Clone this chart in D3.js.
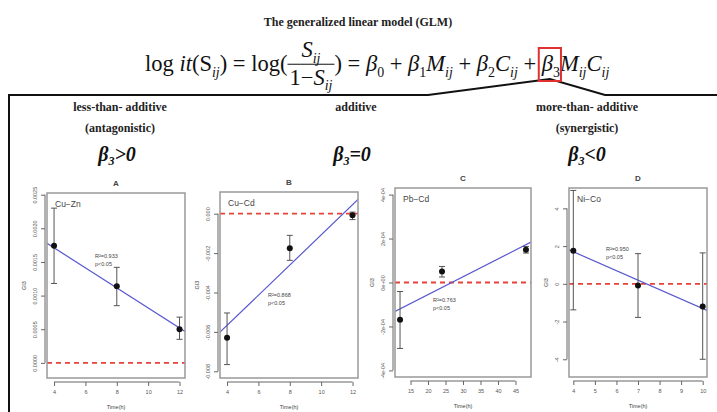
<!DOCTYPE html>
<html>
<head>
<meta charset="utf-8">
<script src="https://d3js.org/d3.v7.min.js"></script>
<style>
  body { margin: 0; background: white; }
  svg { display: block; }
  .serif { font-family: "Liberation Serif", "Times New Roman", serif; white-space: pre; }
  .tick text { font-family: "Liberation Sans", Arial, sans-serif; font-size: 5.5px; fill: #555; }
  .tick line { stroke: #666; }
  .small { font-family: "Liberation Sans", Arial, sans-serif; fill: #444; }
</style>
</head>
<body>
<svg id="chart" width="717" height="412"></svg>
<script>
// ---- data ----
const panelIds = ["A", "B", "C", "D"];
const pairNames = ["Cu\u2212Zn", "Cu\u2212Cd", "Pb\u2212Cd", "Ni\u2212Co"];
const r2Values = ["0.933", "0.868", "0.763", "0.950"];
const headers = ["less-than- additive", "additive", "more-than- additive"];
const subHeaders = ["(antagonistic)", "", "(synergistic)"];
const betaSigns = [">", "=", "<"];

const timeA = [4, 8, 12];
const giA = [0.00174, 0.00114, 0.00050];
const loA = [0.00118, 0.00085, 0.00035];
const hiA = [0.00230, 0.00142, 0.00068];
const fitA = [0.00171, 0.00052];
const xTicksA = [4, 6, 8, 10, 12];
const yTicksA = [0, 0.0005, 0.0010, 0.0015, 0.0020, 0.0025];

const timeB = [4, 8, 12];
const giB = [-0.0063, -0.00175, -0.00008];
const loB = [-0.00766, -0.00237, -0.0003];
const hiB = [-0.00504, -0.0011, 0.00008];
const fitB = [-0.00567, 0.00045];
const xTicksB = [4, 6, 8, 10, 12];
const yTicksB = [0, -0.002, -0.004, -0.006, -0.008];

const timeC = [12, 24, 48];
const giC = [-0.000170, 0.000050, 0.000149];
const loC = [-0.000300, 0.000025, 0.000134];
const hiC = [-0.000041, 0.000073, 0.000164];
const fitC = [-0.000120, 0.000172];
const xTicksC = [15, 20, 25, 30, 35, 40, 45];
const yTicksC = [0.0004, 0.0002, 0, -0.0002, -0.0004];
const yLabelsC = ["4e-04", "2e-04", "0e+00", "-2e-04", "-4e-04"];

const timeD = [4, 7, 10];
const giD = [1.75, -0.09, -1.20];
const loD = [-1.38, -1.78, -4.0];
const hiD = [4.95, 1.60, 1.64];
const fitD = [1.70, -1.31];
const xTicksD = [4, 5, 6, 7, 8, 9, 10];
const yTicksD = [4, 2, 0, -2, -4];

// ---- layout ----
const svg = d3.select("#chart");

const panels = [
  { time: timeA, gi: giA, lo: loA, hi: hiA, fit: fitA, xt: xTicksA, yt: yTicksA,
    yfmt: d => d3.format(".4f")(d), xd: [3.55, 12.35], yd: [-0.000225, 0.002525],
    box: [47, 193, 185, 378], note: [95, 258] },
  { time: timeB, gi: giB, lo: loB, hi: hiB, fit: fitB, xt: xTicksB, yt: yTicksB,
    yfmt: d => d3.format(".3f")(d).replace("\u2212", "-"), xd: [3.55, 12.35], yd: [-0.00834, 0.0011],
    box: [220, 192, 358, 378], note: [268, 297] },
  { time: timeC, gi: giC, lo: loC, hi: hiC, fit: fitC, xt: xTicksC, yt: yTicksC,
    yfmt: (d, i) => yLabelsC[i], xd: [10.56, 49.44], yd: [-0.00043, 0.00043],
    box: [395, 188, 531, 377], note: [433, 302] },
  { time: timeD, gi: giD, lo: loD, hi: hiD, fit: fitD, xt: xTicksD, yt: yTicksD,
    yfmt: d => String(d), xd: [3.8, 10.2], yd: [-4.94, 5.08],
    box: [569, 188, 707, 377], note: [606, 251] }
];

// ---- title and equation ----
svg.append("text").attr("class", "serif")
  .attr("x", 358).attr("y", 26).attr("text-anchor", "middle")
  .attr("font-size", 12).attr("font-weight", "bold").attr("fill", "#222")
  .text("The generalized linear model (GLM)");

const eq = svg.append("g");
const base = 71;
let bx0 = 0, bx1 = 0;

function drawEquation(fs) {
  eq.selectAll("*").remove();
  const subFs = fs * 0.62;
  let cx = 145;
  function put(str, opts = {}) {
    const t = eq.append("text").attr("class", "serif")
      .attr("x", cx).attr("y", base + (opts.sub ? fs * 0.25 : 0))
      .attr("font-size", opts.sub ? subFs : fs)
      .attr("font-style", opts.it ? "italic" : null)
      .attr("fill", "#111")
      .text(str);
    cx += t.node().getComputedTextLength();
  }
  put("log ");
  put("it", { it: true });
  put("(S");
  put("ij", { sub: true, it: true });
  put(") = log(");
  // fraction
  const x0 = cx;
  const num = eq.append("text").attr("class", "serif").attr("y", base - fs * 0.62).attr("font-size", fs).attr("fill", "#111");
  num.append("tspan").attr("font-style", "italic").text("S");
  num.append("tspan").attr("font-size", subFs).attr("font-style", "italic").attr("dy", fs * 0.25).text("ij");
  const den = eq.append("text").attr("class", "serif").attr("y", base + fs * 0.6).attr("font-size", fs).attr("fill", "#111");
  den.append("tspan").text("1\u2212");
  den.append("tspan").attr("font-style", "italic").text("S");
  den.append("tspan").attr("font-size", subFs).attr("font-style", "italic").attr("dy", fs * 0.25).text("ij");
  const wn = num.node().getComputedTextLength(), wd = den.node().getComputedTextLength();
  const fw = Math.max(wn, wd) + 4;
  num.attr("x", x0 + (fw - wn) / 2);
  den.attr("x", x0 + (fw - wd) / 2);
  eq.append("line").attr("x1", x0).attr("x2", x0 + fw).attr("y1", base - fs * 0.3).attr("y2", base - fs * 0.3)
    .attr("stroke", "#111").attr("stroke-width", 1);
  cx += fw;
  put(") = ");
  put("\u03b2", { it: true }); put("0", { sub: true });
  put(" + ");
  put("\u03b2", { it: true }); put("1", { sub: true }); put("M", { it: true }); put("ij", { sub: true, it: true });
  put(" + ");
  put("\u03b2", { it: true }); put("2", { sub: true }); put("C", { it: true }); put("ij", { sub: true, it: true });
  put(" + ");
  bx0 = cx;
  put("\u03b2", { it: true }); put("3", { sub: true });
  bx1 = cx;
  put("M", { it: true }); put("ij", { sub: true, it: true }); put("C", { it: true }); put("ij", { sub: true, it: true });
  return cx - 145;
}
const w0 = drawEquation(20);
drawEquation(20 * 465 / w0);
const rbX0 = bx0 - 3, rbX1 = bx1 + 1;

// bracket lines and outer frame
svg.append("path")
  .attr("d", `M9,412 L9,95 L428,95 L${(rbX0 + rbX1) / 2},79 L605,95 L717,95`)
  .attr("fill", "none").attr("stroke", "#111").attr("stroke-width", 2);
svg.append("rect").attr("x", rbX0).attr("y", 48).attr("width", rbX1 - rbX0).attr("height", 33)
  .attr("fill", "none").attr("stroke", "#e03030").attr("stroke-width", 2);

// ---- column headers ----
const headX = [120, 356, 587];
const betaX = [117, 352, 587];
headers.forEach((h, i) => {
  svg.append("text").attr("class", "serif").attr("x", headX[i]).attr("y", 111)
    .attr("text-anchor", "middle").attr("font-size", 12).attr("font-weight", "bold").attr("fill", "#222")
    .text(h);
  if (subHeaders[i]) {
    svg.append("text").attr("class", "serif").attr("x", headX[i]).attr("y", 132)
      .attr("text-anchor", "middle").attr("font-size", 12).attr("font-weight", "bold").attr("fill", "#222")
      .text(subHeaders[i]);
  }
  const b = svg.append("text").attr("class", "serif").attr("x", betaX[i]).attr("y", 161)
    .attr("text-anchor", "middle").attr("font-size", 20).attr("font-weight", "bold")
    .attr("font-style", "italic").attr("fill", "#111");
  b.append("tspan").text("\u03b2");
  b.append("tspan").attr("font-size", 12).attr("dy", 4).text("3");
  b.append("tspan").attr("dy", -4).text(betaSigns[i] + "0");
});

// ---- panels ----
panels.forEach((p, i) => {
  const [x0, y0, x1, y1] = p.box;
  const x = d3.scaleLinear().domain(p.xd).range([x0, x1]);
  const y = d3.scaleLinear().domain(p.yd).range([y1, y0]);
  const g = svg.append("g");

  g.append("clipPath").attr("id", "clip" + i)
    .append("rect").attr("x", x0).attr("y", y0).attr("width", x1 - x0).attr("height", y1 - y0);

  // axes
  const ya = g.append("g").attr("transform", `translate(${x0 - 2},0)`)
    .call(d3.axisLeft(y).tickValues(p.yt).tickSize(4).tickPadding(3).tickFormat(p.yfmt));
  ya.select(".domain").remove();
  ya.selectAll(".tick text").attr("transform", "rotate(-90)").attr("text-anchor", "middle")
    .attr("x", 0).attr("dy", 0).attr("y", -8);
  g.append("line").attr("x1", x0 - 2).attr("x2", x0 - 2)
    .attr("y1", y(d3.min(p.yt))).attr("y2", y(d3.max(p.yt))).attr("stroke", "#666");

  const xa = g.append("g").attr("transform", `translate(0,${y1 + 4})`)
    .call(d3.axisBottom(x).tickValues(p.xt).tickSize(4).tickPadding(4).tickFormat(d3.format("d")));
  xa.select(".domain").remove();
  g.append("line").attr("x1", x(d3.min(p.xt))).attr("x2", x(d3.max(p.xt)))
    .attr("y1", y1 + 4).attr("y2", y1 + 4).attr("stroke", "#666");

  // axis titles and panel letter
  g.append("text").attr("class", "small").attr("font-size", 5.5)
    .attr("transform", `translate(${x0 - 21},${(y0 + y1) / 2}) rotate(-90)`)
    .attr("text-anchor", "middle").text("GI3");
  g.append("text").attr("class", "small").attr("font-size", 5.5)
    .attr("x", (x0 + x1) / 2).attr("y", y1 + 31).attr("text-anchor", "middle").text("Time(h)");
  g.append("text").attr("class", "small").attr("font-size", 8).attr("font-weight", "bold").attr("fill", "#222")
    .attr("x", (x0 + x1) / 2).attr("y", y0 - 7).attr("text-anchor", "middle").text(panelIds[i]);

  // reference line at zero
  g.append("line").attr("clip-path", `url(#clip${i})`)
    .attr("x1", x0).attr("x2", x1).attr("y1", y(0)).attr("y2", y(0))
    .attr("stroke", "#e8403a").attr("stroke-width", 1.8).attr("stroke-dasharray", "5,4");

  // fitted line, extended across the plot
  const t0 = p.time[0], t1 = p.time[p.time.length - 1];
  const slope = (p.fit[1] - p.fit[0]) / (t1 - t0);
  const f = t => p.fit[0] + slope * (t - t0);
  g.append("line").attr("clip-path", `url(#clip${i})`)
    .attr("x1", x(p.xd[0])).attr("y1", y(f(p.xd[0])))
    .attr("x2", x(p.xd[1])).attr("y2", y(f(p.xd[1])))
    .attr("stroke", "#5757d0").attr("stroke-width", 1.2);

  // error bars and points
  const pts = p.time.map((t, k) => ({ t, v: p.gi[k], lo: p.lo[k], hi: p.hi[k] }));
  const eb = g.selectAll("g.eb").data(pts).join("g").attr("class", "eb")
    .attr("stroke", "#555").attr("stroke-width", 1);
  eb.append("line").attr("x1", d => x(d.t)).attr("x2", d => x(d.t)).attr("y1", d => y(d.lo)).attr("y2", d => y(d.hi));
  eb.append("line").attr("x1", d => x(d.t) - 3).attr("x2", d => x(d.t) + 3).attr("y1", d => y(d.lo)).attr("y2", d => y(d.lo));
  eb.append("line").attr("x1", d => x(d.t) - 3).attr("x2", d => x(d.t) + 3).attr("y1", d => y(d.hi)).attr("y2", d => y(d.hi));
  g.selectAll("circle").data(pts).join("circle")
    .attr("cx", d => x(d.t)).attr("cy", d => y(d.v)).attr("r", 3).attr("fill", "#111");

  // frame
  g.append("rect").attr("x", x0).attr("y", y0).attr("width", x1 - x0).attr("height", y1 - y0)
    .attr("fill", "none").attr("stroke", "#999").attr("stroke-width", 1.5);

  // labels inside
  g.append("text").attr("class", "small").attr("font-size", 8.5).attr("fill", "#333")
    .attr("x", x0 + 8).attr("y", y0 + 14).text(pairNames[i]);
  const n = g.append("text").attr("class", "small").attr("font-size", 5.5)
    .attr("x", p.note[0]).attr("y", p.note[1]);
  n.append("tspan").text("R\u00b2=" + r2Values[i]);
  n.append("tspan").attr("x", p.note[0]).attr("dy", 8).text("p<0.05");
});
</script>
</body>
</html>
